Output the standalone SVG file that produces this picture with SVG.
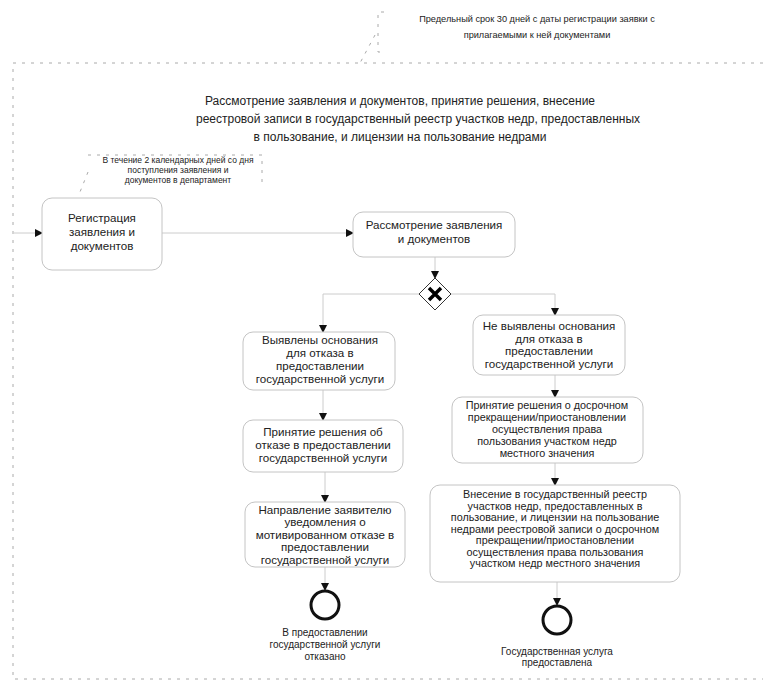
<svg xmlns="http://www.w3.org/2000/svg" width="763" height="686" viewBox="0 0 763 686">
<defs>
<style>
text{font-family:"Liberation Sans",Arial,sans-serif;fill:#222;text-anchor:middle}
.t{font-size:11.6px}
.s{font-size:10.8px}
.h{font-size:12px}
.a{font-size:8.5px}
.n{font-size:9.2px}
.e{font-size:10px}
.task{fill:#fff;stroke:#c4c4c4;stroke-width:1}
.edge{fill:none;stroke:#cccccc;stroke-width:1}
.dash{fill:none;stroke:#aaa;stroke-width:1;stroke-dasharray:3 6}
.end{fill:none;stroke:#111;stroke-width:3}
</style>
<marker id="arr" markerWidth="8" markerHeight="8" refX="7" refY="4" orient="auto" markerUnits="userSpaceOnUse">
<path d="M0,0 L8,4 L0,8 Z" fill="#111"/>
</marker>
</defs>
<rect width="763" height="686" fill="#fff"/>

<g id="subprocess">
<path class="dash" d="M763,63 L13,63 L13,679 L763,679"/>
<text class="h" x="400" y="105">Рассмотрение заявления и документов, принятие решения, внесение</text>
<text class="h" x="418" y="123">реестровой записи в государственный реестр участков недр, предоставленных</text>
<text class="h" x="400" y="141">в пользование, и лицензии на пользование недрами</text>
</g>

<g id="annotation-deadline">
<path class="dash" d="M384,12 L378,12 L378,52 L384,52"/>
<path class="dash" d="M375,35 L360,63"/>
<text class="n" x="537" y="22">Предельный срок 30 дней с даты регистрации заявки с</text>
<text class="n" x="537" y="38">прилагаемыми к ней документами</text>
</g>

<g id="annotation-registration">
<path class="dash" d="M88,155 L262,155 L262,188"/>
<path class="dash" d="M88,172 L78,197"/>
<text class="a" x="178" y="163">В течение 2 календарных дней со дня</text>
<text class="a" x="178" y="173">поступления заявления и</text>
<text class="a" x="178" y="183">документов в департамент</text>
</g>

<g id="connectors">
<path class="edge" d="M14,233 L42,233" marker-end="url(#arr)"/>
<path class="edge" d="M162,233 L353,233" marker-end="url(#arr)"/>
<path class="edge" d="M435,257 L435,278" marker-end="url(#arr)"/>
<path class="edge" d="M419,294 L323,294 L323,332" marker-end="url(#arr)"/>
<path class="edge" d="M451,294 L555,294 L555,315" marker-end="url(#arr)"/>
<path class="edge" d="M323,390 L323,420" marker-end="url(#arr)"/>
<path class="edge" d="M325,472 L325,502" marker-end="url(#arr)"/>
<path class="edge" d="M325,567 L325,590" marker-end="url(#arr)"/>
<path class="edge" d="M555,375 L555,397" marker-end="url(#arr)"/>
<path class="edge" d="M555,463 L555,485" marker-end="url(#arr)"/>
<path class="edge" d="M557,582 L557,605" marker-end="url(#arr)"/>
</g>

<g id="task-registration">
<rect class="task" x="42" y="198" width="120" height="72" rx="10"/>
<text class="t" x="102" y="222">Регистрация</text>
<text class="t" x="102" y="236">заявления и</text>
<text class="t" x="102" y="250">документов</text>
</g>

<g id="task-review">
<rect class="task" x="353" y="212" width="162" height="45" rx="10"/>
<text class="t" x="434" y="229">Рассмотрение заявления</text>
<text class="t" x="434" y="243">и документов</text>
</g>

<g id="gateway">
<path d="M435,278 L451,294 L435,310 L419,294 Z" fill="#fff" stroke="#333" stroke-width="1"/>
<path d="M429,288 L441,300 M441,288 L429,300" stroke="#000" stroke-width="3.5"/>
</g>

<g id="task-grounds-found">
<rect class="task" x="243" y="332" width="152" height="58" rx="10"/>
<text class="t" x="320" y="344">Выявлены основания</text>
<text class="t" x="320" y="357">для отказа в</text>
<text class="t" x="320" y="370">предоставлении</text>
<text class="t" x="320" y="383">государственной услуги</text>
</g>

<g id="task-refusal-decision">
<rect class="task" x="243" y="420" width="160" height="52" rx="10"/>
<text class="t" x="323" y="436">Принятие решения об</text>
<text class="t" x="323" y="449">отказе в предоставлении</text>
<text class="t" x="323" y="462">государственной услуги</text>
</g>

<g id="task-notify">
<rect class="task" x="245" y="502" width="160" height="65" rx="10"/>
<text class="t" x="325" y="514">Направление заявителю</text>
<text class="t" x="325" y="526">уведомления о</text>
<text class="t" x="325" y="539">мотивированном отказе в</text>
<text class="t" x="325" y="551">предоставлении</text>
<text class="t" x="325" y="564">государственной услуги</text>
</g>

<g id="end-refused">
<circle class="end" cx="325" cy="605" r="14"/>
<text class="e" x="325" y="636">В предоставлении</text>
<text class="e" x="325" y="648">государственной услуги</text>
<text class="e" x="325" y="660">отказано</text>
</g>

<g id="task-grounds-not-found">
<rect class="task" x="473" y="315" width="152" height="60" rx="10"/>
<text class="t" x="549" y="330">Не выявлены основания</text>
<text class="t" x="549" y="343">для отказа в</text>
<text class="t" x="549" y="355">предоставлении</text>
<text class="t" x="549" y="368">государственной услуги</text>
</g>

<g id="task-termination-decision">
<rect class="task" x="452" y="397" width="191" height="66" rx="10"/>
<text class="s" x="547" y="409">Принятие решения о досрочном</text>
<text class="s" x="547" y="421">прекращении/приостановлении</text>
<text class="s" x="547" y="433">осуществления права</text>
<text class="s" x="547" y="445">пользования участком недр</text>
<text class="s" x="547" y="457">местного значения</text>
</g>

<g id="task-registry-entry">
<rect class="task" x="430" y="485" width="250" height="97" rx="10"/>
<text class="s" x="555" y="498">Внесение в государственный реестр</text>
<text class="s" x="555" y="509.5">участков недр, предоставленных в</text>
<text class="s" x="555" y="521">пользование, и лицензии на пользование</text>
<text class="s" x="555" y="532.5">недрами реестровой записи о досрочном</text>
<text class="s" x="555" y="544">прекращении/приостановлении</text>
<text class="s" x="555" y="555.5">осуществления права пользования</text>
<text class="s" x="555" y="567">участком недр местного значения</text>
</g>

<g id="end-provided">
<circle class="end" cx="557" cy="620" r="14"/>
<text class="e" x="557" y="655">Государственная услуга</text>
<text class="e" x="557" y="666">предоставлена</text>
</g>
</svg>
